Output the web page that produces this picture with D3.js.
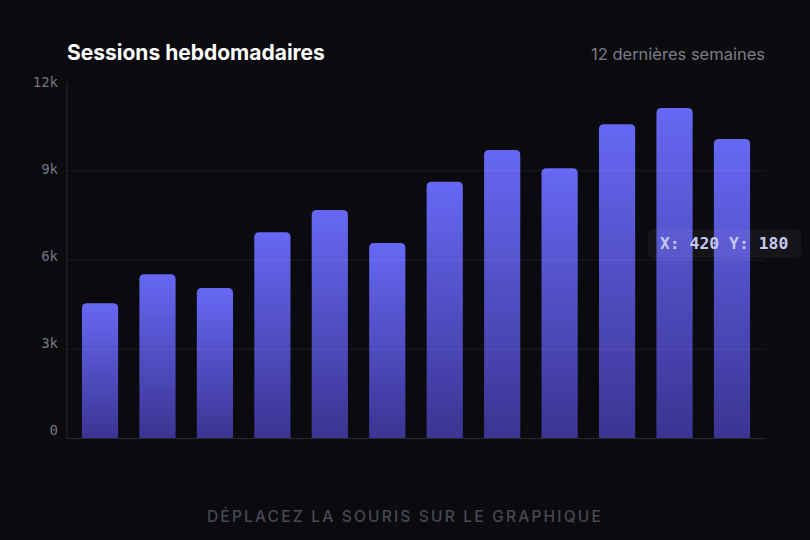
<!DOCTYPE html>
<html>
<head>
<meta charset="utf-8">
<script src="https://cdn.jsdelivr.net/npm/d3@7"></script>
<style>
  html, body { margin: 0; padding: 0; background: #0b0b0f; }
  svg { display: block; }
</style>
</head>
<body>
<svg id="chart" width="810" height="540"></svg>
<script>
// weekly sessions, last 12 weeks
var weeks = ["S1","S2","S3","S4","S5","S6","S7","S8","S9","S10","S11","S12"];
var sessions = [4550, 5520, 5060, 6930, 7680, 6570, 8630, 9700, 9080, 10560, 11110, 10070];
var yTicks = [0, 3000, 6000, 9000, 12000];
var yTickLabels = ["0", "3k", "6k", "9k", "12k"];

var svg = d3.select("#chart");
var W = 810, H = 540;
var plotLeft = 67, plotRight = 765, plotTop = 81.5, plotBottom = 438.5;

var defs = svg.append("defs");
var grad = defs.append("linearGradient")
    .attr("id", "barGrad")
    .attr("x1", 0).attr("y1", 0).attr("x2", 0).attr("y2", 1);
grad.append("stop").attr("offset", "0%").attr("stop-color", "#6668f4");
grad.append("stop").attr("offset", "100%").attr("stop-color", "#3b3492");

var x = d3.scaleBand()
    .domain(weeks)
    .range([plotLeft, plotRight])
    .paddingInner(0.37)
    .paddingOuter(0.26);

var y = d3.scaleLinear()
    .domain([0, 12000])
    .range([plotBottom, plotTop]);

// labels sit on a slightly shorter column than the grid
var yLabel = d3.scaleLinear()
    .domain([0, 12000])
    .range([430, 82]);

// title + subtitle
svg.append("text")
    .attr("x", plotLeft)
    .attr("y", 60)
    .attr("fill", "#ffffff")
    .attr("font-family", "Inter, 'Noto Sans', sans-serif")
    .attr("font-weight", "bold")
    .attr("font-size", "21px")
    .text("Sessions hebdomadaires");

svg.append("text")
    .attr("x", plotRight)
    .attr("y", 60)
    .attr("text-anchor", "end")
    .attr("fill", "#7b7b86")
    .attr("font-family", "Inter, 'Noto Sans', sans-serif")
    .attr("font-size", "16.5px")
    .text("12 dernières semaines");

// bars, rounded on top only
function barPath(x0, y0, w, h, r) {
    r = Math.min(r, h);
    return "M" + x0 + "," + (y0 + h) +
        "V" + (y0 + r) +
        "Q" + x0 + "," + y0 + " " + (x0 + r) + "," + y0 +
        "H" + (x0 + w - r) +
        "Q" + (x0 + w) + "," + y0 + " " + (x0 + w) + "," + (y0 + r) +
        "V" + (y0 + h) + "Z";
}

svg.append("g")
    .selectAll("path")
    .data(sessions)
    .enter()
    .append("path")
        .attr("d", function(d, i) {
            return barPath(x(weeks[i]), y(d), x.bandwidth(), y(0) - y(d), 5);
        })
        .attr("fill", "url(#barGrad)");

// grid lines on top, very faint
svg.append("g")
    .selectAll("line")
    .data(yTicks.slice(1, 4))
    .enter()
    .append("line")
        .attr("x1", plotLeft)
        .attr("x2", plotRight)
        .attr("y1", function(d) { return y(d); })
        .attr("y2", function(d) { return y(d); })
        .attr("stroke", "#ffffff")
        .attr("stroke-opacity", 0.07)
        .attr("stroke-width", 1);

// axis lines
svg.append("line")
    .attr("x1", plotLeft).attr("x2", plotLeft)
    .attr("y1", plotTop).attr("y2", plotBottom)
    .attr("stroke", "#2a2a33")
    .attr("stroke-width", 1);
svg.append("line")
    .attr("x1", plotLeft).attr("x2", plotRight)
    .attr("y1", plotBottom).attr("y2", plotBottom)
    .attr("stroke", "#2a2a33")
    .attr("stroke-width", 1);

svg.append("g")
    .selectAll("text")
    .data(yTicks)
    .enter()
    .append("text")
        .attr("x", 58)
        .attr("y", function(d) { return yLabel(d); })
        .attr("dy", "0.35em")
        .attr("text-anchor", "end")
        .attr("fill", "#74747f")
        .attr("font-family", "'DejaVu Sans Mono', monospace")
        .attr("font-size", "14px")
        .text(function(d, i) { return yTickLabels[i]; });

// tooltip readout
var tip = svg.append("g");
tip.append("rect")
    .attr("x", 648)
    .attr("y", 229)
    .attr("width", 153)
    .attr("height", 29)
    .attr("rx", 6)
    .attr("fill", "#ffffff")
    .attr("fill-opacity", 0.045);
tip.append("text")
    .attr("x", 660)
    .attr("y", 248.5)
    .attr("fill", "#c6c8f2")
    .attr("font-family", "'DejaVu Sans Mono', monospace")
    .attr("font-weight", "bold")
    .attr("font-size", "16.4px")
    .text("X: 420 Y: 180");

// footer hint
svg.append("text")
    .attr("x", W / 2)
    .attr("y", 522)
    .attr("text-anchor", "middle")
    .attr("fill", "#484853")
    .attr("font-family", "Inter, 'Noto Sans', sans-serif")
    .attr("font-weight", 500)
    .attr("font-size", "15.5px")
    .attr("letter-spacing", "2.2px")
    .text("DÉPLACEZ LA SOURIS SUR LE GRAPHIQUE");
</script>
</body>
</html>
